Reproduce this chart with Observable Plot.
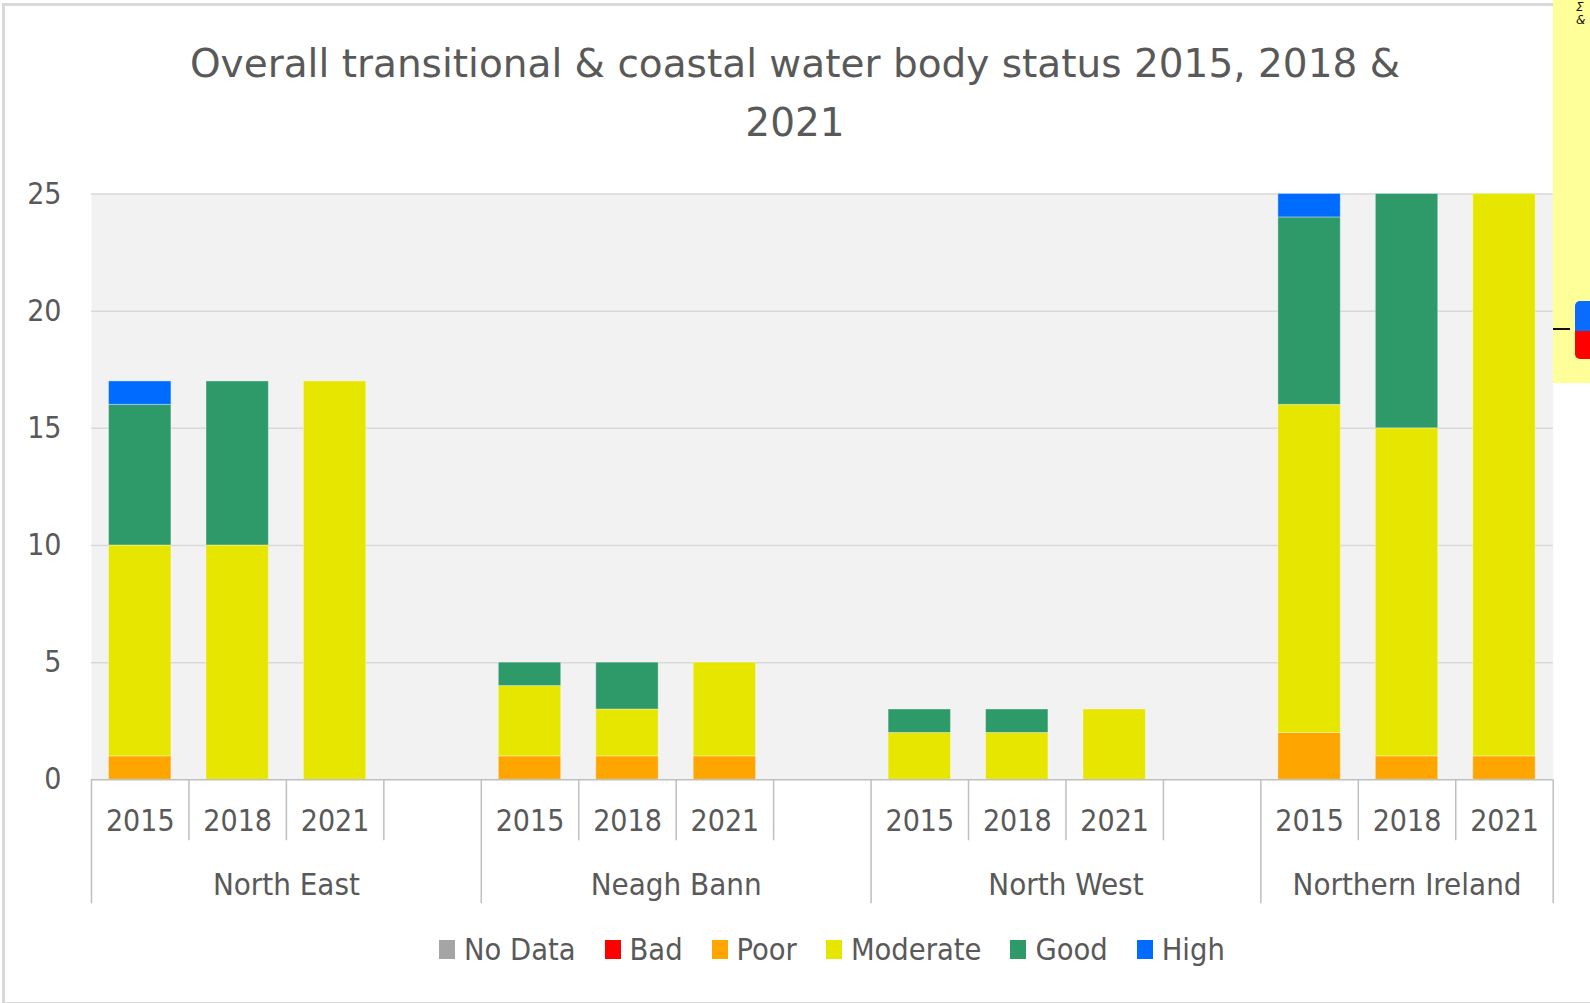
<!DOCTYPE html>
<html>
<head>
<meta charset="utf-8">
<script src="https://cdn.jsdelivr.net/npm/d3@7"></script>
<script src="https://cdn.jsdelivr.net/npm/@observablehq/plot@0.6"></script>
<style>
  html, body { margin: 0; padding: 0; background: #ffffff; }
  body { width: 1590px; height: 1003px; overflow: hidden; position: relative;
         font-family: "DejaVu Sans Condensed", "DejaVu Sans", sans-serif; font-stretch: condensed; color: #595959; }
  #frame { position: absolute; left: 2px; top: 3px; width: 1600px; height: 996px; border: 3px solid #d9d9d9; box-sizing: content-box; }
  #title { position: absolute; left: 0; top: 34px; width: 1590px; text-align: center; font-family: "DejaVu Sans", sans-serif; font-stretch: normal; font-size: 39px; line-height: 59px; color: #595959; }
  #chart { position: absolute; left: 0; top: 150px; }
  #legend { position: absolute; left: 439px; top: 932px; display: flex; align-items: center; font-size: 30.5px; color: #595959; white-space: nowrap; }
  #legend .item { display: flex; align-items: center; margin-right: 29px; }
  #legend .sw { width: 16px; height: 19px; margin-right: 9px; }
  #note { position: absolute; left: 1553px; top: 0; width: 37px; height: 383px; background: #ffff99; }
  #note .dash { position: absolute; left: 0; top: 328px; width: 17px; height: 2px; background: #111; }
  #note .btn { position: absolute; left: 22px; top: 301px; width: 20px; height: 58px; border-radius: 5px; overflow: hidden; }
  #note .btn .b { height: 30px; background: #0a6cff; }
  #note .btn .r { height: 28px; background: #ff0000; }
  #note .txt { position: absolute; left: 23px; top: 1px; font: italic 12px "DejaVu Sans", sans-serif; color: #111; line-height: 13px; }
</style>
</head>
<body>
<div id="frame"></div>
<div id="title">Overall transitional &amp; coastal water body status 2015, 2018 &amp;<br>2021</div>
<div id="chart"></div>
<div id="legend"></div>
<div id="note"><div class="txt">Σ<br>&amp;</div><div class="dash"></div><div class="btn"><div class="b"></div><div class="r"></div></div></div>
<script>
// ---- data ----
const groups = ["North East", "Neagh Bann", "North West", "Northern Ireland"];
const years = ["2015", "2018", "2021"];
const statuses = ["No Data", "Bad", "Poor", "Moderate", "Good", "High"];
const statusColors = ["#a5a5a5", "#ff0000", "#ffa500", "#e6e600", "#2e9a6a", "#006cff"];
// values in order: NE 2015, 2018, 2021 | NB 2015, 2018, 2021 | NW ... | NI ...
const noData   = [0, 0, 0,   0, 0, 0,   0, 0, 0,   0, 0, 0];
const bad      = [0, 0, 0,   0, 0, 0,   0, 0, 0,   0, 0, 0];
const poor     = [1, 0, 0,   1, 1, 1,   0, 0, 0,   2, 1, 1];
const moderate = [9, 10, 17, 3, 2, 4,   2, 2, 3,   14, 14, 24];
const good     = [6, 7, 0,   1, 2, 0,   1, 1, 0,   8, 10, 0];
const high     = [1, 0, 0,   0, 0, 0,   0, 0, 0,   1, 0, 0];
const yTicks = [0, 5, 10, 15, 20, 25];

// ---- build tables ----
const seriesValues = [noData, bad, poor, moderate, good, high];
const slots = [];
groups.forEach((g, gi) => {
  years.forEach((y, yi) => slots.push({key: g + "|" + y, group: g, year: y, pos: yi, gi}));
  if (gi < groups.length - 1) slots.push({key: g + "|", group: g, year: "", pos: years.length, gi});
});
const rows = [];
groups.forEach((g, gi) => years.forEach((y, yi) => {
  statuses.forEach((s, si) => {
    const v = seriesValues[si][gi * years.length + yi];
    if (v > 0) rows.push({slot: g + "|" + y, status: s, value: v});
  });
}));

const W = 1590, H = 770;
const mL = 91, mR = 37.3, mT = 43.5, mB = 140.7;
const step = (W - mL - mR) / slots.length;
const FONT = '"DejaVu Sans Condensed", "DejaVu Sans", sans-serif';

const shortSeps = slots.filter(s => s.pos > 0);
const longSeps = slots.filter(s => s.pos === 0);
const lastSlot = [slots[slots.length - 1]];
const yearSlots = slots.filter(s => s.year !== "");
const groups4 = groups.slice(0, 3).map(g => ({key: g + "|" + years[1], group: g}));
const groups3 = groups.slice(3).map(g => ({key: g + "|" + years[1], group: g}));
const axisColor = "#bfbfbf";

const chart = Plot.plot({
  width: W, height: H,
  marginLeft: mL, marginRight: mR, marginTop: mT, marginBottom: mB,
  style: {fontFamily: FONT, fontSize: "30px", color: "#595959", background: "transparent", overflow: "visible", fontStretch: "condensed"},
  x: {type: "band", domain: slots.map(s => s.key), paddingInner: 0.36, paddingOuter: 0.18, round: false, axis: null},
  y: {domain: [0, 25], ticks: yTicks, tickSize: 0, tickPadding: 30, label: null},
  color: {domain: statuses, range: statusColors},
  marks: [
    Plot.frame({fill: "#f2f2f2", stroke: null}),
    Plot.ruleY(yTicks.filter(t => t > 0), {stroke: "#d9d9d9", strokeWidth: 1.5}),
    Plot.barY(rows, {x: "slot", y: "value", fill: "status", order: statuses, stroke: "#ffffff", strokeOpacity: 0.35, strokeWidth: 1}),
    Plot.ruleY([0], {stroke: axisColor, strokeWidth: 1.5}),
    Plot.ruleX(shortSeps, {x: "key", dx: -step / 2, y1: 0, y2: 0, insetBottom: -61, stroke: axisColor, strokeWidth: 1.5}),
    Plot.ruleX(longSeps, {x: "key", dx: -step / 2, y1: 0, y2: 0, insetBottom: -124, stroke: axisColor, strokeWidth: 1.5}),
    Plot.ruleX(lastSlot, {x: "key", dx: step / 2, y1: 0, y2: 0, insetBottom: -124, stroke: axisColor, strokeWidth: 1.5}),
    Plot.text(yearSlots, {x: "key", text: "year", frameAnchor: "bottom", lineAnchor: "middle", dy: 42, fontSize: 30, fill: "#595959"}),
    Plot.text(groups4, {x: "key", text: "group", frameAnchor: "bottom", lineAnchor: "middle", dy: 105, dx: step / 2, fontSize: 31, fill: "#595959"}),
    Plot.text(groups3, {x: "key", text: "group", frameAnchor: "bottom", lineAnchor: "middle", dy: 105, fontSize: 31, fill: "#595959"})
  ]
});
document.getElementById("chart").appendChild(chart);

// legend
const legend = document.getElementById("legend");
statuses.forEach((s, i) => {
  const item = document.createElement("div");
  item.className = "item";
  const sw = document.createElement("div");
  sw.className = "sw";
  sw.style.background = statusColors[i];
  const t = document.createElement("span");
  t.textContent = s;
  item.appendChild(sw);
  item.appendChild(t);
  legend.appendChild(item);
});
</script>
</body>
</html>
